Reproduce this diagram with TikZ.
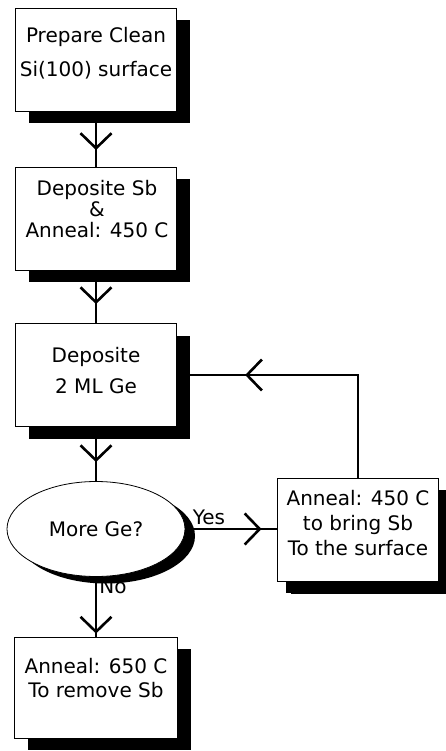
\documentclass[tikz,border=0pt]{standalone}
\usepackage{fontspec}
\setmainfont{DejaVu Sans}
\usepackage{tikz}
\usetikzlibrary{arrows.meta, positioning, shapes.geometric, shadows, decorations.markings}
\tikzset{
  stepbox/.style={draw, line width=0.8pt, fill=white, minimum width=161pt, minimum height=103pt,
    drop shadow={shadow xshift=13pt, shadow yshift=-12pt, fill=black, opacity=1}},
  steptext/.style={align=center, inner sep=0pt, font=\fontsize{20}{25}\selectfont},
  flow/.style={line width=2.6pt},
  vee/.style={decoration={markings, mark=at position #1 with {\arrow{Straight Barb[length=15pt, width=31pt]}}},
    postaction={decorate}}
}
\begin{document}
\begin{tikzpicture}[x=1pt, y=-1pt]
        \useasboundingbox (0,0) rectangle (446,751);
        \node[stepbox] (prep) at (96,59.5) {};
        \node[steptext] (prept) at (96,53) {Prepare Clean\\[9pt]Si(100) surface};
        \node[stepbox] (sb) at (96,218.5) {};
        \node[steptext] (sbt) at (97,209) {Deposite Sb\\[-4pt]\&\\[-4pt]Anneal: 450 C};
        \node[stepbox] (ge) at (96,375) {};
        \node[steptext] (get) at (96,370.5) {Deposite\\[6pt]2 ML Ge};
        \node[steptext] (nolab) at (113,586) {No};
        \node[ellipse, draw, line width=0.8pt, fill=white, minimum width=178pt, minimum height=95pt,
          drop shadow={shadow xshift=10pt, shadow yshift=-7pt, fill=black, opacity=1}] (more) at (96,529) {};
        \node[steptext] (moret) at (96,529) {More Ge?};
        \node[stepbox, drop shadow={shadow xshift=8pt, shadow yshift=-11pt, fill=black, opacity=1}] (back) at (358,530) {};
        \node[steptext] (backt) at (358,523) {Anneal: 450 C\\to bring Sb\\To the surface};
        \node[stepbox, minimum width=163pt, minimum height=101pt] (remove) at (96,687.5) {};
        \node[steptext] (removet) at (96,678) {Anneal: 650 C\\[-1pt]To remove Sb};
        \node[steptext] (yeslab) at (209,517) {Yes};
        \draw[flow, vee=0.7] (prep) -- (sb);
        \draw[flow, vee=0.64] (sb) -- (ge);
        \draw[flow, vee=0.65] (ge) -- (more);
        \draw[flow, vee=0.95] (more) -- (remove);
        \draw[flow, vee=0.83] (more.east) -- (more.east -| back.west);
        \draw[flow, vee=0.76] (back.north) |- (ge.east);
      \end{tikzpicture}
\end{document}
